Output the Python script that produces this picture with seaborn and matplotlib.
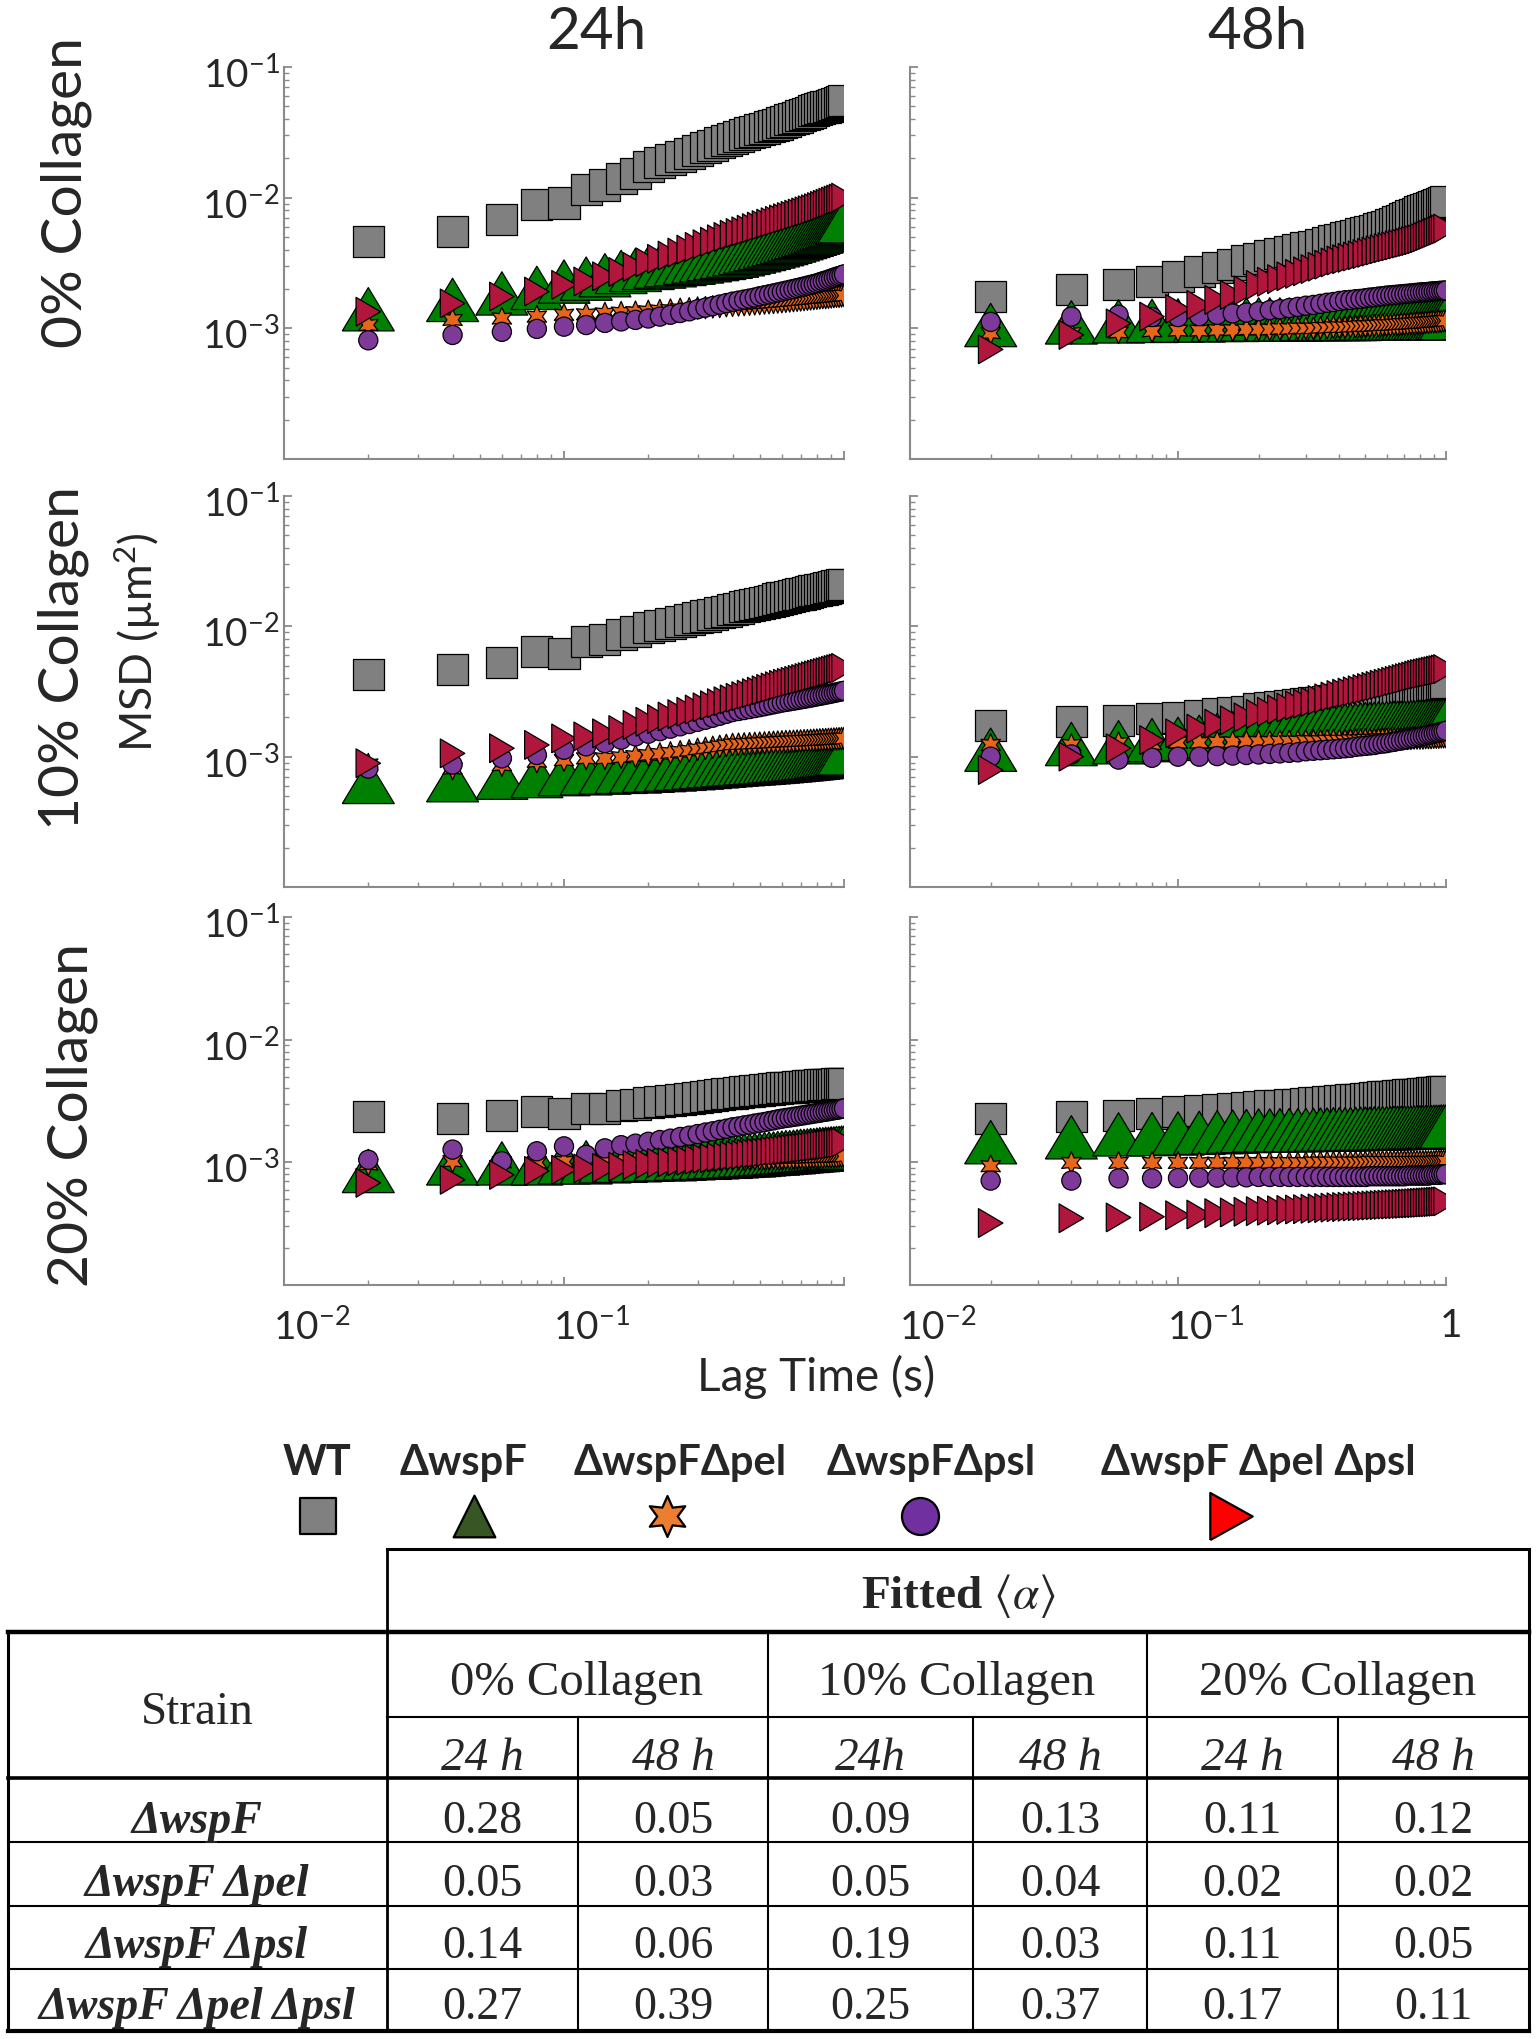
import numpy as np
import pandas as pd
import seaborn as sns
import matplotlib.pyplot as plt
from matplotlib.ticker import NullFormatter
from matplotlib.transforms import ScaledTranslation

# lag times (s)
LAG = [0.02, 0.04, 0.06, 0.08, 0.10, 0.12, 0.14, 0.16, 0.18, 0.20,
       0.22, 0.24, 0.26, 0.28, 0.30, 0.32, 0.34, 0.36, 0.38, 0.40,
       0.42, 0.44, 0.46, 0.48, 0.50, 0.52, 0.54, 0.56, 0.58, 0.60,
       0.62, 0.64, 0.66, 0.68, 0.70, 0.72, 0.74, 0.76, 0.78, 0.80,
       0.82, 0.84, 0.86, 0.88, 0.90, 0.92, 0.94, 0.96, 0.98, 1.00]

STRAINS = ['WT', 'ΔwspF', 'ΔwspFΔpel', 'ΔwspFΔpsl', 'ΔwspF Δpel Δpsl']

# MSD values are given in units of 1e-3 um^2
MSD_UNIT = 1e-3

MSD_0_24 = {
    'WT': [4.6, 5.5, 6.8, 8.8, 9.1, 11.5, 12.5, 14.1, 15.4, 17.4,
           18.5, 19.6, 20.8, 21.9, 23.0, 24.1, 25.2, 26.4, 27.5, 28.6,
           29.5, 30.4, 31.3, 32.2, 33.1, 33.9, 34.8, 35.7, 36.6, 37.5,
           38.5, 39.4, 40.4, 41.3, 42.3, 43.2, 44.2, 45.1, 46.1, 47.0,
           47.8, 48.6, 49.4, 50.2, 51.0, 51.8, 52.6, 53.4, 54.2, 55.0],
    'ΔwspF': [1.40, 1.65, 1.85, 2.04, 2.28, 2.40, 2.55, 2.70, 2.80, 2.90,
              2.97, 3.04, 3.11, 3.18, 3.25, 3.32, 3.39, 3.46, 3.53, 3.60,
              3.69, 3.78, 3.87, 3.96, 4.05, 4.14, 4.23, 4.32, 4.41, 4.50,
              4.60, 4.70, 4.80, 4.90, 5.00, 5.10, 5.20, 5.30, 5.40, 5.50,
              5.61, 5.72, 5.83, 5.94, 6.05, 6.16, 6.27, 6.38, 6.49, 6.60],
    'ΔwspFΔpel': [1.06, 1.16, 1.19, 1.23, 1.27, 1.28, 1.30, 1.32, 1.33, 1.35,
                  1.37, 1.38, 1.40, 1.41, 1.43, 1.44, 1.46, 1.47, 1.49, 1.50,
                  1.51, 1.52, 1.53, 1.54, 1.55, 1.56, 1.57, 1.58, 1.59, 1.60,
                  1.61, 1.62, 1.63, 1.64, 1.65, 1.66, 1.67, 1.68, 1.69, 1.70,
                  1.71, 1.72, 1.72, 1.73, 1.74, 1.75, 1.76, 1.76, 1.77, 1.78],
    'ΔwspFΔpsl': [0.81, 0.89, 0.94, 0.99, 1.03, 1.06, 1.10, 1.13, 1.16, 1.19,
                  1.23, 1.27, 1.31, 1.35, 1.40, 1.44, 1.48, 1.52, 1.56, 1.60,
                  1.63, 1.66, 1.69, 1.72, 1.76, 1.79, 1.82, 1.85, 1.88, 1.91,
                  1.94, 1.97, 2.00, 2.03, 2.06, 2.09, 2.12, 2.15, 2.18, 2.21,
                  2.25, 2.29, 2.32, 2.36, 2.40, 2.44, 2.48, 2.51, 2.55, 2.59],
    'ΔwspF Δpel Δpsl': [1.34, 1.55, 1.75, 1.91, 2.15, 2.28, 2.50, 2.70, 2.95, 3.20,
                        3.40, 3.60, 3.80, 4.00, 4.20, 4.40, 4.60, 4.80, 5.00, 5.20,
                        5.36, 5.52, 5.68, 5.84, 6.00, 6.16, 6.32, 6.48, 6.64, 6.80,
                        6.95, 7.10, 7.25, 7.40, 7.55, 7.70, 7.85, 8.00, 8.15, 8.30,
                        8.47, 8.64, 8.81, 8.98, 9.15, 9.32, 9.49, 9.66, 9.83, 10.0],
}

MSD_0_48 = {
    'WT': [1.75, 1.97, 2.15, 2.28, 2.49, 2.72, 2.90, 3.10, 3.30, 3.45,
           3.59, 3.72, 3.86, 3.99, 4.13, 4.26, 4.40, 4.53, 4.67, 4.80,
           4.92, 5.04, 5.16, 5.28, 5.40, 5.52, 5.64, 5.76, 5.88, 6.00,
           6.18, 6.36, 6.54, 6.72, 6.90, 7.08, 7.26, 7.44, 7.62, 7.80,
           7.95, 8.10, 8.25, 8.40, 8.55, 8.70, 8.85, 9.00, 9.15, 9.30],
    'ΔwspF': [1.06, 1.11, 1.13, 1.14, 1.15, 1.15, 1.16, 1.16, 1.17, 1.17,
              1.17, 1.17, 1.17, 1.17, 1.18, 1.18, 1.18, 1.18, 1.18, 1.18,
              1.18, 1.18, 1.18, 1.19, 1.19, 1.19, 1.19, 1.19, 1.19, 1.19,
              1.19, 1.19, 1.19, 1.19, 1.19, 1.20, 1.20, 1.20, 1.20, 1.20,
              1.20, 1.20, 1.20, 1.20, 1.20, 1.20, 1.20, 1.20, 1.20, 1.20],
    'ΔwspFΔpel': [0.92, 0.92, 0.93, 0.95, 0.96, 0.96, 0.97, 0.97, 0.98, 0.98,
                  0.98, 0.99, 0.99, 1.00, 1.00, 1.00, 1.01, 1.01, 1.02, 1.02,
                  1.02, 1.03, 1.03, 1.04, 1.04, 1.04, 1.05, 1.05, 1.06, 1.06,
                  1.06, 1.07, 1.07, 1.08, 1.08, 1.08, 1.09, 1.09, 1.10, 1.10,
                  1.10, 1.11, 1.11, 1.12, 1.12, 1.12, 1.13, 1.13, 1.14, 1.14],
    'ΔwspFΔpsl': [1.12, 1.23, 1.27, 1.22, 1.22, 1.24, 1.27, 1.30, 1.32, 1.35,
                  1.38, 1.40, 1.43, 1.46, 1.49, 1.51, 1.54, 1.57, 1.59, 1.62,
                  1.64, 1.65, 1.67, 1.68, 1.70, 1.72, 1.73, 1.75, 1.76, 1.78,
                  1.79, 1.80, 1.81, 1.82, 1.83, 1.84, 1.85, 1.86, 1.87, 1.88,
                  1.89, 1.89, 1.90, 1.91, 1.92, 1.92, 1.93, 1.94, 1.94, 1.95],
    'ΔwspF Δpel Δpsl': [0.69, 0.89, 1.09, 1.23, 1.41, 1.51, 1.65, 1.80, 1.95, 2.15,
                        2.27, 2.38, 2.50, 2.61, 2.73, 2.84, 2.96, 3.07, 3.19, 3.30,
                        3.38, 3.46, 3.54, 3.62, 3.70, 3.78, 3.86, 3.94, 4.02, 4.10,
                        4.17, 4.24, 4.31, 4.38, 4.45, 4.52, 4.59, 4.66, 4.73, 4.80,
                        4.90, 5.00, 5.10, 5.20, 5.30, 5.40, 5.50, 5.60, 5.70, 5.80],
}

MSD_10_24 = {
    'WT': [4.27, 4.66, 5.30, 6.45, 6.20, 7.70, 7.95, 8.70, 9.20, 9.80,
           10.2, 10.5, 10.9, 11.3, 11.7, 12.0, 12.4, 12.8, 13.1, 13.5,
           13.8, 14.1, 14.4, 14.7, 15.0, 15.3, 15.6, 15.9, 16.2, 16.5,
           16.7, 17.0, 17.2, 17.5, 17.7, 17.9, 18.2, 18.4, 18.7, 18.9,
           19.1, 19.3, 19.6, 19.8, 20.0, 20.2, 20.4, 20.7, 20.9, 21.1],
    'ΔwspF': [0.64, 0.66, 0.69, 0.71, 0.735, 0.745, 0.755, 0.765, 0.77, 0.78,
              0.789, 0.798, 0.807, 0.816, 0.825, 0.834, 0.843, 0.852, 0.861, 0.87,
              0.876, 0.882, 0.888, 0.894, 0.90, 0.906, 0.912, 0.918, 0.924, 0.93,
              0.936, 0.942, 0.948, 0.954, 0.96, 0.966, 0.972, 0.978, 0.984, 0.99,
              0.997, 1.004, 1.011, 1.018, 1.025, 1.032, 1.039, 1.046, 1.053, 1.06],
    'ΔwspFΔpel': [0.87, 0.81, 0.86, 0.915, 0.94, 0.97, 0.97, 0.99, 1.01, 1.03,
                  1.05, 1.07, 1.09, 1.11, 1.14, 1.16, 1.18, 1.20, 1.22, 1.24,
                  1.246, 1.252, 1.258, 1.264, 1.27, 1.276, 1.282, 1.288, 1.294, 1.30,
                  1.304, 1.308, 1.312, 1.316, 1.32, 1.324, 1.328, 1.332, 1.336, 1.34,
                  1.344, 1.348, 1.352, 1.356, 1.36, 1.364, 1.368, 1.372, 1.376, 1.38],
    'ΔwspFΔpsl': [0.81, 0.87, 0.97, 1.03, 1.13, 1.20, 1.27, 1.35, 1.43, 1.50,
                  1.57, 1.64, 1.71, 1.78, 1.85, 1.92, 1.99, 2.06, 2.13, 2.20,
                  2.24, 2.28, 2.32, 2.36, 2.40, 2.44, 2.48, 2.52, 2.56, 2.60,
                  2.63, 2.66, 2.69, 2.72, 2.75, 2.78, 2.81, 2.84, 2.87, 2.90,
                  2.93, 2.96, 2.99, 3.02, 3.05, 3.08, 3.11, 3.14, 3.17, 3.20],
    'ΔwspF Δpel Δpsl': [0.89, 1.06, 1.16, 1.23, 1.38, 1.43, 1.51, 1.60, 1.75, 1.85,
                        1.94, 2.03, 2.12, 2.21, 2.30, 2.39, 2.48, 2.57, 2.66, 2.75,
                        2.83, 2.91, 2.99, 3.07, 3.15, 3.23, 3.31, 3.39, 3.47, 3.55,
                        3.62, 3.68, 3.75, 3.81, 3.88, 3.94, 4.01, 4.07, 4.14, 4.20,
                        4.26, 4.32, 4.38, 4.44, 4.50, 4.56, 4.62, 4.68, 4.74, 4.80],
}

MSD_10_48 = {
    'WT': [1.74, 1.85, 1.90, 1.95, 2.00, 2.07, 2.13, 2.18, 2.23, 2.33,
           2.37, 2.41, 2.46, 2.50, 2.54, 2.58, 2.62, 2.67, 2.71, 2.75,
           2.78, 2.81, 2.83, 2.86, 2.89, 2.92, 2.95, 2.97, 3.00, 3.03,
           3.06, 3.08, 3.11, 3.13, 3.16, 3.18, 3.21, 3.23, 3.26, 3.28,
           3.32, 3.36, 3.41, 3.45, 3.49, 3.53, 3.57, 3.62, 3.66, 3.70],
    'ΔwspF': [1.13, 1.25, 1.29, 1.34, 1.37, 1.42, 1.47, 1.51, 1.55, 1.58,
              1.60, 1.61, 1.63, 1.64, 1.66, 1.68, 1.69, 1.71, 1.72, 1.74,
              1.75, 1.75, 1.76, 1.77, 1.78, 1.78, 1.79, 1.80, 1.80, 1.81,
              1.81, 1.82, 1.82, 1.82, 1.83, 1.83, 1.84, 1.84, 1.85, 1.85,
              1.85, 1.86, 1.86, 1.86, 1.87, 1.87, 1.87, 1.88, 1.88, 1.88],
    'ΔwspFΔpel': [1.23, 1.23, 1.27, 1.25, 1.28, 1.28, 1.29, 1.29, 1.30, 1.30,
                  1.30, 1.31, 1.31, 1.31, 1.32, 1.32, 1.32, 1.33, 1.33, 1.33,
                  1.33, 1.34, 1.34, 1.34, 1.35, 1.35, 1.35, 1.36, 1.36, 1.36,
                  1.36, 1.37, 1.37, 1.37, 1.38, 1.38, 1.38, 1.39, 1.39, 1.39,
                  1.39, 1.40, 1.40, 1.40, 1.41, 1.41, 1.41, 1.42, 1.42, 1.42],
    'ΔwspFΔpsl': [1.00, 1.04, 0.95, 0.98, 1.00, 1.00, 1.01, 1.02, 1.03, 1.04,
                  1.05, 1.06, 1.07, 1.08, 1.10, 1.11, 1.12, 1.13, 1.14, 1.15,
                  1.16, 1.17, 1.19, 1.20, 1.21, 1.22, 1.23, 1.25, 1.26, 1.27,
                  1.29, 1.30, 1.32, 1.33, 1.35, 1.36, 1.38, 1.39, 1.41, 1.42,
                  1.44, 1.45, 1.47, 1.48, 1.50, 1.52, 1.53, 1.55, 1.56, 1.58],
    'ΔwspF Δpel Δpsl': [0.79, 1.00, 1.16, 1.34, 1.51, 1.64, 1.79, 1.90, 2.00, 2.13,
                        2.21, 2.30, 2.38, 2.47, 2.55, 2.63, 2.72, 2.80, 2.89, 2.97,
                        3.04, 3.10, 3.17, 3.23, 3.30, 3.36, 3.43, 3.49, 3.56, 3.62,
                        3.68, 3.75, 3.81, 3.87, 3.94, 4.00, 4.06, 4.12, 4.19, 4.25,
                        4.30, 4.34, 4.39, 4.43, 4.48, 4.52, 4.57, 4.61, 4.66, 4.70],
}

MSD_20_24 = {
    'WT': [2.35, 2.28, 2.43, 2.58, 2.50, 2.75, 2.75, 2.93, 2.95, 3.05,
           3.11, 3.17, 3.24, 3.30, 3.36, 3.42, 3.48, 3.55, 3.61, 3.67,
           3.71, 3.75, 3.78, 3.82, 3.86, 3.90, 3.94, 3.97, 4.01, 4.05,
           4.07, 4.09, 4.11, 4.13, 4.15, 4.17, 4.19, 4.21, 4.23, 4.25,
           4.27, 4.28, 4.30, 4.31, 4.33, 4.34, 4.36, 4.37, 4.39, 4.40],
    'ΔwspF': [0.85, 0.98, 0.98, 0.98, 1.00, 1.00, 1.02, 1.03, 1.04, 1.05,
              1.06, 1.06, 1.07, 1.08, 1.09, 1.09, 1.10, 1.11, 1.11, 1.12,
              1.13, 1.14, 1.14, 1.15, 1.16, 1.17, 1.18, 1.18, 1.19, 1.20,
              1.21, 1.21, 1.22, 1.23, 1.24, 1.24, 1.25, 1.26, 1.26, 1.27,
              1.28, 1.28, 1.29, 1.29, 1.30, 1.30, 1.31, 1.31, 1.32, 1.32],
    'ΔwspFΔpel': [0.96, 1.02, 1.00, 1.00, 1.01, 1.01, 1.01, 1.02, 1.02, 1.03,
                  1.03, 1.04, 1.04, 1.04, 1.05, 1.05, 1.05, 1.06, 1.06, 1.06,
                  1.06, 1.06, 1.07, 1.07, 1.07, 1.07, 1.07, 1.08, 1.08, 1.08,
                  1.08, 1.08, 1.09, 1.09, 1.09, 1.09, 1.09, 1.10, 1.10, 1.10,
                  1.10, 1.10, 1.11, 1.11, 1.11, 1.11, 1.11, 1.12, 1.12, 1.12],
    'ΔwspFΔpsl': [1.05, 1.27, 1.02, 1.23, 1.35, 1.15, 1.30, 1.38, 1.42, 1.47,
                  1.52, 1.56, 1.61, 1.65, 1.70, 1.75, 1.79, 1.84, 1.88, 1.93,
                  1.96, 2.00, 2.03, 2.07, 2.10, 2.13, 2.17, 2.20, 2.24, 2.27,
                  2.30, 2.32, 2.35, 2.37, 2.40, 2.42, 2.45, 2.47, 2.50, 2.52,
                  2.54, 2.57, 2.59, 2.61, 2.64, 2.66, 2.68, 2.70, 2.73, 2.75],
    'ΔwspF Δpel Δpsl': [0.68, 0.72, 0.79, 0.85, 0.87, 0.89, 0.90, 0.92, 0.95, 0.97,
                        0.99, 1.00, 1.02, 1.03, 1.05, 1.07, 1.08, 1.10, 1.11, 1.13,
                        1.14, 1.15, 1.17, 1.18, 1.19, 1.20, 1.21, 1.23, 1.24, 1.25,
                        1.26, 1.27, 1.28, 1.29, 1.30, 1.31, 1.32, 1.33, 1.34, 1.35,
                        1.36, 1.37, 1.38, 1.39, 1.40, 1.41, 1.42, 1.43, 1.44, 1.45],
}

MSD_20_48 = {
    'WT': [2.28, 2.37, 2.40, 2.50, 2.60, 2.65, 2.70, 2.75, 2.80, 2.85,
           2.88, 2.92, 2.95, 2.98, 3.02, 3.05, 3.08, 3.11, 3.15, 3.18,
           3.21, 3.23, 3.26, 3.28, 3.31, 3.34, 3.36, 3.39, 3.41, 3.44,
           3.46, 3.47, 3.49, 3.50, 3.52, 3.54, 3.55, 3.57, 3.58, 3.60,
           3.62, 3.64, 3.66, 3.68, 3.70, 3.72, 3.74, 3.76, 3.78, 3.80],
    'ΔwspF': [1.46, 1.60, 1.69, 1.70, 1.72, 1.74, 1.76, 1.78, 1.80, 1.82,
              1.82, 1.83, 1.83, 1.83, 1.84, 1.84, 1.85, 1.85, 1.86, 1.86,
              1.86, 1.87, 1.87, 1.88, 1.88, 1.88, 1.89, 1.89, 1.90, 1.90,
              1.90, 1.91, 1.91, 1.91, 1.92, 1.92, 1.92, 1.93, 1.93, 1.93,
              1.93, 1.94, 1.94, 1.94, 1.95, 1.95, 1.95, 1.96, 1.96, 1.96],
    'ΔwspFΔpel': [0.93, 0.99, 0.99, 0.99, 0.99, 0.99, 0.99, 0.99, 0.99, 0.99,
                  0.99, 0.99, 0.99, 0.99, 0.99, 1.00, 1.00, 1.00, 1.00, 1.00,
                  1.00, 1.00, 1.00, 1.00, 1.00, 1.01, 1.01, 1.01, 1.01, 1.01,
                  1.01, 1.01, 1.01, 1.01, 1.01, 1.01, 1.01, 1.01, 1.01, 1.01,
                  1.01, 1.01, 1.01, 1.01, 1.01, 1.02, 1.02, 1.02, 1.02, 1.02],
    'ΔwspFΔpsl': [0.71, 0.71, 0.74, 0.74, 0.745, 0.75, 0.75, 0.755, 0.755, 0.76,
                  0.76, 0.76, 0.76, 0.76, 0.76, 0.76, 0.76, 0.76, 0.76, 0.76,
                  0.76, 0.76, 0.76, 0.76, 0.76, 0.77, 0.77, 0.77, 0.77, 0.77,
                  0.77, 0.77, 0.77, 0.77, 0.77, 0.78, 0.78, 0.78, 0.78, 0.78,
                  0.78, 0.78, 0.78, 0.79, 0.79, 0.79, 0.79, 0.80, 0.80, 0.80],
    'ΔwspF Δpel Δpsl': [0.32, 0.35, 0.355, 0.36, 0.37, 0.375, 0.385, 0.39, 0.395, 0.40,
                        0.403, 0.406, 0.409, 0.412, 0.415, 0.418, 0.421, 0.424, 0.427, 0.43,
                        0.432, 0.434, 0.436, 0.438, 0.44, 0.442, 0.444, 0.446, 0.448, 0.45,
                        0.452, 0.453, 0.455, 0.456, 0.458, 0.459, 0.461, 0.462, 0.464, 0.465,
                        0.467, 0.468, 0.47, 0.471, 0.473, 0.474, 0.476, 0.477, 0.479, 0.48],
}

# fitted <alpha> table
COLLAGEN = ['0% Collagen', '10% Collagen', '20% Collagen']
TIME_LABELS = ['24 h', '48 h', '24h', '48 h', '24 h', '48 h']
TABLE_STRAINS = ['ΔwspF', 'ΔwspF Δpel', 'ΔwspF Δpsl', 'ΔwspF Δpel Δpsl']
ALPHA_WSPF = [0.28, 0.05, 0.09, 0.13, 0.11, 0.12]
ALPHA_PEL = [0.05, 0.03, 0.05, 0.04, 0.02, 0.02]
ALPHA_PSL = [0.14, 0.06, 0.19, 0.03, 0.11, 0.05]
ALPHA_PEL_PSL = [0.27, 0.39, 0.25, 0.37, 0.17, 0.11]

X_TICKS = [0.01, 0.1, 1]
Y_TICKS = [1e-3, 1e-2, 1e-1]
Y_TICK_LABELS = ['$10^{-3}$', '$10^{-2}$', '$10^{-1}$']

# styles
PLOT_COLORS = {'WT': '#808080', 'ΔwspF': '#008000', 'ΔwspFΔpel': '#E8661C',
               'ΔwspFΔpsl': '#7E3A99', 'ΔwspF Δpel Δpsl': '#B1173C'}
LEGEND_COLORS = {'WT': '#808080', 'ΔwspF': '#375623', 'ΔwspFΔpel': '#ED7D31',
                 'ΔwspFΔpsl': '#7030A0', 'ΔwspF Δpel Δpsl': '#FF0000'}
WIDE_TRI = [(-1.2, -1), (1.2, -1), (0, 1), (-1.2, -1)]
RIGHT_TRI = [(-0.85, -1), (0.85, 0), (-0.85, 1), (-0.85, -1)]
MARKERS = {'WT': 's', 'ΔwspF': WIDE_TRI, 'ΔwspFΔpel': (6, 1, 0),
           'ΔwspFΔpsl': 'o', 'ΔwspF Δpel Δpsl': RIGHT_TRI}
SIZES = {'WT': 500, 'ΔwspF': 1400, 'ΔwspFΔpel': 260, 'ΔwspFΔpsl': 190,
         'ΔwspF Δpel Δpsl': 430}
AXIS_GRAY = '#8a8a8a'

sns.set_theme(style='ticks')
plt.rcParams['font.family'] = ['Lato', 'DejaVu Sans']
plt.rcParams['mathtext.fontset'] = 'custom'
plt.rcParams['mathtext.rm'] = 'Lato'
plt.rcParams['mathtext.it'] = 'Lato:italic'
plt.rcParams['mathtext.bf'] = 'Lato:bold'

W, H = 1538, 2040
fig = plt.figure(figsize=(W / 100, H / 100), dpi=100)

ROWS = [(68, 460), (497, 888), (918, 1286)]
COLS = [(284, 844), (910, 1446)]
PANELS = [[MSD_0_24, MSD_0_48], [MSD_10_24, MSD_10_48], [MSD_20_24, MSD_20_48]]


def draw_panel(ax, msd, show_y, x_labels):
    df = pd.DataFrame({
        'lag': np.tile(LAG, len(STRAINS)),
        'msd': np.concatenate([np.array(msd[s]) * MSD_UNIT for s in STRAINS]),
        'strain': np.repeat(STRAINS, len(LAG)),
    })
    sns.scatterplot(data=df, x='lag', y='msd', hue='strain', style='strain',
                    size='strain', palette=PLOT_COLORS, markers=MARKERS,
                    sizes=SIZES, edgecolor='black', linewidth=0.9,
                    legend=False, ax=ax)
    ax.set_xscale('log')
    ax.set_yscale('log')
    ax.set_xlim(0.01, 1)
    ax.set_ylim(1e-4, 1e-1)
    ax.set_xlabel('')
    ax.set_ylabel('')
    sns.despine(ax=ax)
    for sp in ('left', 'bottom'):
        ax.spines[sp].set_color(AXIS_GRAY)
        ax.spines[sp].set_linewidth(1.5)
    ax.set_xticks(X_TICKS)
    ax.set_yticks(Y_TICKS)
    ax.xaxis.set_minor_formatter(NullFormatter())
    ax.yaxis.set_minor_formatter(NullFormatter())
    ax.tick_params(which='both', direction='in', color=AXIS_GRAY)
    ax.tick_params(which='major', length=6, width=1.3)
    ax.tick_params(which='minor', length=3.5, width=1.0)
    if show_y:
        ax.set_yticklabels(Y_TICK_LABELS)
        ax.tick_params(axis='y', labelsize=28, pad=3)
        for lab in ax.get_yticklabels():
            lab.set_transform(lab.get_transform() +
                              ScaledTranslation(0, -0.04, fig.dpi_scale_trans))
    else:
        ax.tick_params(axis='y', labelleft=False)
    if x_labels:
        ax.set_xticklabels(x_labels)
        ax.tick_params(axis='x', labelsize=28, pad=16)
        for lab in ax.get_xticklabels():
            dx = 0.28 if '10' in lab.get_text() else 0.04
            lab.set_transform(lab.get_transform() +
                              ScaledTranslation(dx, 0, fig.dpi_scale_trans))
    else:
        ax.tick_params(axis='x', labelbottom=False)


for r, (top, bottom) in enumerate(ROWS):
    for c, (left, right) in enumerate(COLS):
        ax = fig.add_axes([left / W, 1 - bottom / H, (right - left) / W, (bottom - top) / H])
        if r == 2:
            xl = ['$10^{-2}$', '$10^{-1}$', ''] if c == 0 else ['$10^{-2}$', '$10^{-1}$', '$1$']
        else:
            xl = None
        draw_panel(ax, PANELS[r][c], show_y=(c == 0), x_labels=xl)

# overlay in pixel coordinates for labels, legend and table
ov = fig.add_axes([0, 0, 1, 1])
ov.set_xlim(0, W)
ov.set_ylim(H, 0)
ov.axis('off')

ov.text(596, 49, '24h', fontsize=42, ha='center', va='baseline')
ov.text(1258, 49, '48h', fontsize=42, ha='center', va='baseline')
for (x, y), lab in zip([(66, 192), (63, 658), (72, 1115)], COLLAGEN):
    ov.text(x, y, lab, fontsize=41, rotation=90, ha='center', va='center')
ov.text(138, 642, 'MSD (µm$^2$)', fontsize=32, rotation=90, ha='center', va='center')
ov.text(816, 1377, 'Lag Time (s)', fontsize=33, ha='center', va='center')

# legend row
LEG_X = [318, 474, 667, 920, 1231]
LEG_LABEL_X = [317, 464, 680, 931, 1258]
LEG_MARKERS = ['s', '^', (6, 1, 0), 'o', [(-0.9, -1), (0.9, 0), (-0.9, 1), (-0.9, -1)]]
LEG_SIZES = [680, 900, 870, 710, 1150]
for s, x, lx, m, sz in zip(STRAINS, LEG_X, LEG_LABEL_X, LEG_MARKERS, LEG_SIZES):
    ov.scatter([x], [1517], marker=m, s=sz, color=LEGEND_COLORS[s],
               edgecolor='black', linewidth=1.6, zorder=3)
    ov.text(lx, 1463, s, fontsize=30, fontweight='bold', ha='center', va='center')

# table
SERIF = ['Liberation Serif', 'DejaVu Serif']
TBL = dict(color='black', solid_capstyle='projecting')
ov.plot([387, 1529], [1550, 1550], lw=2.2, **TBL)
ov.plot([8, 1529], [1633, 1633], lw=3.2, **TBL)
ov.plot([387, 1529], [1718, 1718], lw=1.5, **TBL)
ov.plot([8, 1529], [1779, 1779], lw=2.6, **TBL)
for y in (1843, 1907, 1970):
    ov.plot([8, 1529], [y, y], lw=1.5, **TBL)
ov.plot([8, 1529], [2032, 2032], lw=3.0, **TBL)
ov.plot([8, 8], [1633, 2032], lw=2.2, **TBL)
ov.plot([387, 387], [1550, 2032], lw=2.0, **TBL)
ov.plot([1529, 1529], [1550, 2032], lw=2.2, **TBL)
for x in (768, 1147):
    ov.plot([x, x], [1633, 2032], lw=1.5, **TBL)
for x in (578, 973, 1338):
    ov.plot([x, x], [1718, 2032], lw=1.5, **TBL)

ov.text(958, 1608, r'Fitted $\langle\alpha\rangle$', fontsize=34, fontweight='bold',
        family=SERIF, math_fontfamily='stix', ha='center', va='baseline')
ov.text(197, 1724, 'Strain', fontsize=34, family=SERIF, ha='center', va='baseline')
for x, lab in zip([577, 957, 1338], COLLAGEN):
    ov.text(x, 1695, lab, fontsize=35, family=SERIF, ha='center', va='baseline')
SUB_X = [482, 673, 870, 1060, 1242, 1433]
for x, lab in zip(SUB_X, TIME_LABELS):
    ov.text(x, 1770, lab, fontsize=34, family=SERIF, style='italic', ha='center', va='baseline')
ROW_BASE = [1833, 1896, 1958, 2019]
for y, name, vals in zip(ROW_BASE, TABLE_STRAINS,
                         [ALPHA_WSPF, ALPHA_PEL, ALPHA_PSL, ALPHA_PEL_PSL]):
    ov.text(197, y, name, fontsize=33, family=SERIF, style='italic', fontweight='bold',
            ha='center', va='baseline')
    for x, v in zip(SUB_X, vals):
        ov.text(x, y, f'{v:.2f}', fontsize=33, family=SERIF, ha='center', va='baseline')

fig.savefig('out.png', dpi=100)
